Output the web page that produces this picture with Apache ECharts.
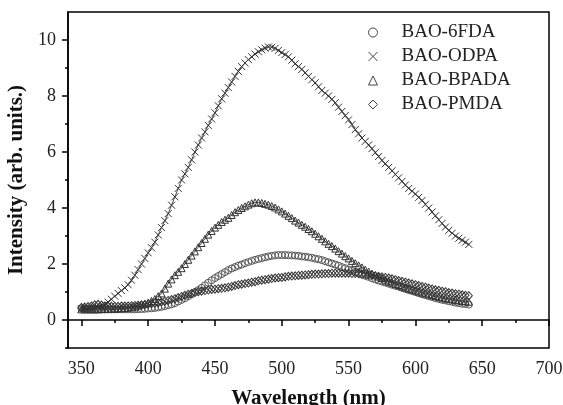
<!DOCTYPE html>
<html>
<head>
<meta charset="utf-8">
<script src="https://cdn.jsdelivr.net/npm/echarts@6/dist/echarts.min.js"></script>
<style>html,body{margin:0;padding:0;background:#fff}#c{width:563px;height:405px}</style>
</head>
<body>
<div id="c"></div>
<script>
const wavelengths = [350,352.5,355,357.5,360,362.5,365,367.5,370,372.5,375,377.5,380,382.5,385,387.5,390,392.5,395,397.5,400,402.5,405,407.5,410,412.5,415,417.5,420,422.5,425,427.5,430,432.5,435,437.5,440,442.5,445,447.5,450,452.5,455,457.5,460,462.5,465,467.5,470,472.5,475,477.5,480,482.5,485,487.5,490,492.5,495,497.5,500,502.5,505,507.5,510,512.5,515,517.5,520,522.5,525,527.5,530,532.5,535,537.5,540,542.5,545,547.5,550,552.5,555,557.5,560,562.5,565,567.5,570,572.5,575,577.5,580,582.5,585,587.5,590,592.5,595,597.5,600,602.5,605,607.5,610,612.5,615,617.5,620,622.5,625,627.5,630,632.5,635,637.5,640];

const bao6FDA = [0.42,0.41,0.40,0.40,0.39,0.39,0.38,0.38,0.38,0.38,0.38,0.38,0.38,0.38,0.38,0.38,0.38,0.39,0.39,0.40,0.41,0.42,0.43,0.45,0.47,0.50,0.53,0.56,0.60,0.66,0.72,0.78,0.85,0.92,1.00,1.07,1.15,1.24,1.33,1.42,1.50,1.57,1.64,1.71,1.78,1.84,1.89,1.94,1.98,2.03,2.07,2.11,2.15,2.18,2.21,2.24,2.27,2.29,2.31,2.32,2.32,2.32,2.31,2.31,2.30,2.29,2.27,2.26,2.24,2.22,2.19,2.17,2.14,2.10,2.06,2.02,1.98,1.94,1.89,1.85,1.80,1.76,1.71,1.67,1.62,1.58,1.54,1.49,1.45,1.41,1.37,1.34,1.30,1.26,1.22,1.19,1.15,1.11,1.07,1.04,1.00,0.96,0.92,0.89,0.85,0.82,0.78,0.75,0.72,0.70,0.67,0.65,0.62,0.60,0.58,0.57,0.55];

const baoODPA = [0.40,0.40,0.41,0.42,0.44,0.46,0.50,0.56,0.64,0.74,0.85,0.95,1.05,1.15,1.26,1.42,1.60,1.80,2.00,2.20,2.40,2.58,2.78,3.04,3.30,3.55,3.80,4.10,4.40,4.70,5.00,5.22,5.45,5.72,6.00,6.25,6.50,6.72,6.95,7.18,7.40,7.65,7.90,8.10,8.30,8.50,8.70,8.88,9.05,9.18,9.30,9.40,9.50,9.58,9.65,9.71,9.75,9.74,9.70,9.63,9.55,9.48,9.40,9.28,9.15,9.05,8.95,8.83,8.70,8.58,8.47,8.33,8.20,8.10,8.00,7.88,7.76,7.60,7.45,7.30,7.15,6.98,6.80,6.65,6.50,6.38,6.25,6.12,5.98,5.84,5.70,5.58,5.45,5.33,5.20,5.08,4.95,4.82,4.70,4.60,4.50,4.38,4.27,4.13,4.00,3.86,3.72,3.58,3.45,3.32,3.20,3.10,3.00,2.92,2.85,2.78,2.70];

const baoBPADA = [0.38,0.38,0.38,0.38,0.38,0.38,0.39,0.39,0.40,0.40,0.41,0.41,0.42,0.43,0.44,0.46,0.48,0.51,0.55,0.58,0.62,0.68,0.75,0.85,0.95,1.12,1.30,1.45,1.60,1.72,1.85,2.00,2.15,2.30,2.45,2.60,2.75,2.90,3.05,3.18,3.30,3.40,3.50,3.58,3.65,3.75,3.85,3.93,4.00,4.06,4.12,4.17,4.20,4.20,4.18,4.15,4.12,4.07,4.02,3.95,3.88,3.80,3.72,3.64,3.55,3.48,3.40,3.33,3.25,3.17,3.08,2.99,2.90,2.81,2.72,2.64,2.55,2.46,2.37,2.28,2.20,2.11,2.03,1.95,1.88,1.80,1.73,1.66,1.60,1.55,1.50,1.44,1.38,1.34,1.29,1.25,1.20,1.16,1.12,1.09,1.05,1.02,0.98,0.95,0.92,0.89,0.86,0.83,0.80,0.78,0.76,0.74,0.72,0.70,0.68,0.67,0.65];

const baoPMDA = [0.45,0.46,0.48,0.50,0.54,0.56,0.53,0.50,0.49,0.49,0.49,0.49,0.50,0.50,0.50,0.51,0.52,0.53,0.54,0.55,0.56,0.58,0.60,0.62,0.64,0.67,0.70,0.73,0.76,0.80,0.84,0.88,0.92,0.95,0.98,1.01,1.03,1.05,1.07,1.09,1.10,1.12,1.13,1.15,1.17,1.20,1.23,1.26,1.28,1.30,1.32,1.35,1.37,1.40,1.42,1.44,1.46,1.48,1.50,1.51,1.52,1.54,1.56,1.57,1.58,1.59,1.60,1.61,1.62,1.63,1.64,1.64,1.65,1.66,1.66,1.67,1.67,1.67,1.67,1.67,1.67,1.66,1.66,1.65,1.64,1.63,1.61,1.60,1.58,1.56,1.54,1.52,1.50,1.47,1.44,1.41,1.38,1.35,1.32,1.29,1.26,1.23,1.20,1.17,1.14,1.11,1.08,1.06,1.03,1.01,0.98,0.96,0.94,0.92,0.90,0.88,0.87];

const seriesNames = ['BAO-6FDA','BAO-ODPA','BAO-BPADA','BAO-PMDA'];
const xMajorTicks = [350,400,450,500,550,600,650,700];
const xMinorTicks = [375,425,475,525,575,625,675];
const yMajorTicks = [0,2,4,6,8,10];
const yMinorTicks = [-1,1,3,5,7,9];

const FONT = '"Liberation Serif", "DejaVu Serif", serif';
const CROSS = 'path://M0,0L10,10M10,0L0,10';
const pair = arr => wavelengths.map((w, i) => [w, arr[i]]);

const chart = echarts.init(document.getElementById('c'), null, {renderer: 'canvas'});

function mk(name, data, symbol, size, color, line) {
  return {
    name: name,
    type: 'line',
    data: pair(data),
    symbol: symbol,
    symbolSize: size,
    showSymbol: true,
    animation: false,
    lineStyle: line ? {width: 0.8, color: '#222'} : {width: 0, opacity: 0},
    itemStyle: {color: 'rgba(255,255,255,0)', borderColor: color, borderWidth: 1},
    emphasis: {disabled: true},
    z: 3
  };
}

chart.setOption({
  animation: false,
  backgroundColor: '#fff',
  grid: {left: 68, right: 14, top: 12, bottom: 57, containLabel: false, outerBoundsMode: 'none', show: true, borderColor: '#000', borderWidth: 1.5, backgroundColor: 'transparent'},
  legend: {
    orient: 'vertical',
    left: 363, top: 18,
    itemGap: 5,
    itemWidth: 9, itemHeight: 9,
    itemStyle: {color: 'rgba(255,255,255,0)', borderColor: '#444', borderWidth: 1},
    lineStyle: {width: 0, opacity: 0},
    textStyle: {fontFamily: FONT, fontSize: 19, color: '#222', padding: [0,0,0,19]},
    data: [
      {name: 'BAO-6FDA', icon: 'circle'},
      {name: 'BAO-ODPA', icon: CROSS},
      {name: 'BAO-BPADA', icon: 'triangle'},
      {name: 'BAO-PMDA', icon: 'diamond'}
    ]
  },
  xAxis: [{
    type: 'value', min: 340, max: 700,
    name: 'Wavelength (nm)', nameLocation: 'middle', nameGap: 40,
    nameTextStyle: {fontFamily: FONT, fontSize: 21, fontWeight: 'bold', color: '#111'},
    axisLine: {show: true, lineStyle: {color: '#000', width: 1.5}},
    axisTick: {show: true, length: 6, inside: false, customValues: xMajorTicks, lineStyle: {color: '#000', width: 1.5}},
    axisLabel: {customValues: xMajorTicks, fontFamily: FONT, fontSize: 18, color: '#222', margin: 12},
    splitLine: {show: false}
  }, {
    type: 'value', min: 340, max: 700, position: 'bottom',
    axisLine: {show: false},
    axisTick: {show: true, length: 3, customValues: xMinorTicks, lineStyle: {color: '#000', width: 1.5}},
    axisLabel: {show: false},
    splitLine: {show: false}
  }],
  yAxis: [{
    type: 'value', min: -1, max: 11,
    name: 'Intensity (arb. units.)', nameLocation: 'middle', nameGap: 35,
    nameTextStyle: {fontFamily: FONT, fontSize: 21, fontWeight: 'bold', color: '#111'},
    axisLine: {show: true, lineStyle: {color: '#000', width: 1.5}},
    axisTick: {show: true, length: 6, customValues: yMajorTicks, lineStyle: {color: '#000', width: 1.5}},
    axisLabel: {customValues: yMajorTicks, fontFamily: FONT, fontSize: 18, color: '#222', margin: 12},
    splitLine: {show: false}
  }, {
    type: 'value', min: -1, max: 11, position: 'left',
    axisLine: {show: false},
    axisTick: {show: true, length: 3, customValues: yMinorTicks, lineStyle: {color: '#000', width: 1.5}},
    axisLabel: {show: false},
    splitLine: {show: false}
  }],
  series: [
    mk(seriesNames[0], bao6FDA, 'circle', 7, '#555', false),
    mk(seriesNames[1], baoODPA, CROSS, 7, '#333', true),
    mk(seriesNames[2], baoBPADA, 'triangle', 7, '#333', true),
    mk(seriesNames[3], baoPMDA, 'diamond', [7, 8], '#333', false)
  ]
});
</script>
</body>
</html>
